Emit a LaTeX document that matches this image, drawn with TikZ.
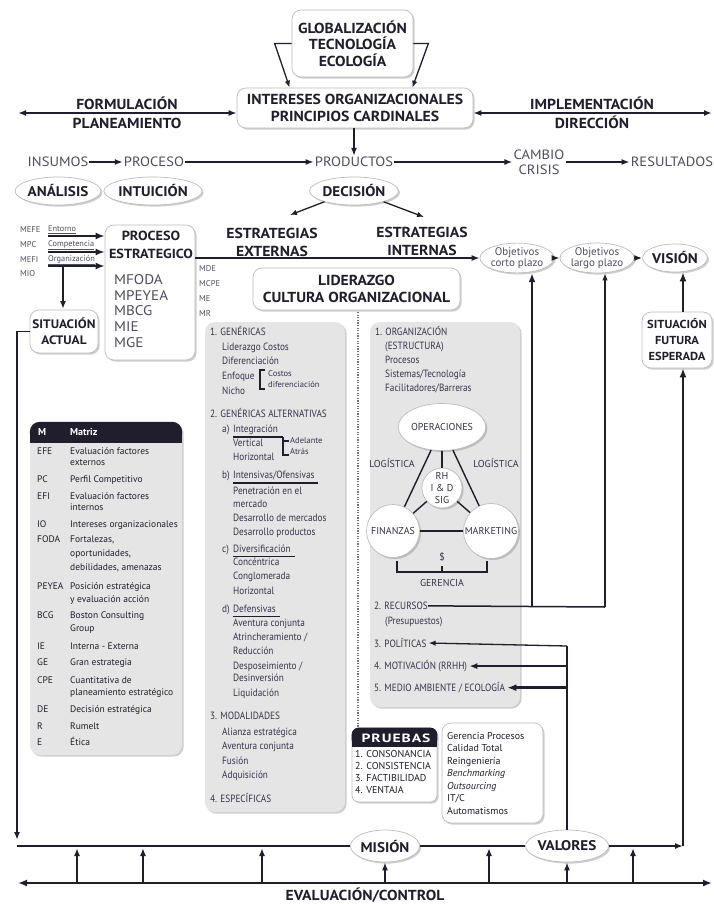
\documentclass[tikz,border=0pt]{standalone}
\usepackage{fontspec}
\setmainfont{PT Sans}
\newfontfamily\widesans[FakeStretch=1.08]{PT Sans}
\newfontfamily\narrowsans[FakeStretch=0.88]{PT Sans}
\newfontfamily\bannersans[FakeStretch=1.3,LetterSpace=8]{PT Sans}
\usetikzlibrary{arrows.meta,shapes.geometric,shadows,calc}

\definecolor{ink}{HTML}{1E1E2C}
\definecolor{soft}{HTML}{4E4E62}
\definecolor{paneltext}{HTML}{34344A}
\definecolor{panelgray}{HTML}{E5E5E5}
\definecolor{rim}{HTML}{BDBDBD}

\tikzset{
  shade3/.style={drop shadow={shadow xshift=1.6pt,shadow yshift=-1.6pt,opacity=0.35,fill=black!55}},
  wbox/.style={draw=rim,line width=0.7pt,fill=white,rounded corners=9pt,shade3,inner sep=0pt,align=center},
  gpanel/.style={fill=panelgray,rounded corners=10pt,shade3,inner sep=0pt},
  oval/.style={ellipse,draw=rim,line width=0.7pt,fill=white,shade3,inner sep=0pt,align=center},
  disc/.style={circle,draw=rim,line width=0.7pt,fill=white,shade3,inner sep=0pt,align=center},
  hd/.style={font=\widesans\bfseries\fontsize{14.5}{16.5}\selectfont,text=ink},
  hds/.style={font=\widesans\bfseries\fontsize{12.3}{16}\selectfont,text=ink},
  hdo/.style={font=\widesans\bfseries\fontsize{14}{16}\selectfont,text=ink},
  hdlbl/.style={font=\widesans\bfseries\fontsize{14.5}{19}\selectfont,text=ink,align=center,inner sep=0pt},
  flowlbl/.style={font=\widesans\fontsize{13.5}{15}\selectfont,text=soft,align=center,inner sep=1pt},
  tiny/.style={font=\fontsize{8.5}{10}\selectfont,text=soft,inner sep=0pt},
  mtx/.style={font=\fontsize{9.5}{11}\selectfont,text=ink,inner sep=0pt,anchor=mid west},
  gtx/.style={font=\narrowsans\fontsize{10.5}{12}\selectfont,text=paneltext,inner sep=0pt,anchor=mid west},
  gsm/.style={font=\fontsize{8.5}{9}\selectfont,text=paneltext,inner sep=0pt,anchor=mid west},
  dtx/.style={font=\fontsize{10}{12}\selectfont,text=paneltext,inner sep=0pt},
  a1/.style={line width=1.3pt,-{Latex[length=7pt,width=5.5pt]}},
  a2/.style={line width=1.8pt,-{Latex[length=8pt,width=6pt]}},
  a3/.style={line width=2.6pt,-{Latex[length=9pt,width=7pt]}},
  dbl2/.style={line width=1.8pt,{Latex[length=8pt,width=6pt]}-{Latex[length=8pt,width=6pt]}},
  dbl3/.style={line width=2.6pt,{Latex[length=9pt,width=7pt]}-{Latex[length=9pt,width=7pt]}},
  plain/.style={line width=1.3pt,draw=ink},
  dotline/.style={draw=black!55,line width=1.2pt,dash pattern=on 1.2pt off 1.4pt}
}

\begin{document}
\begin{tikzpicture}[x=1pt,y=-1pt,>=Latex,draw=ink]
\useasboundingbox (0,0) rectangle (713,904);
\fill[white] (0,0) rectangle (713,904);

% ---------- top block ----------
\node[wbox,hd,minimum width=121pt,minimum height=67pt] (glob) at (352.5,43.5)
  {GLOBALIZACIÓN\\TECNOLOGÍA\\ECOLOGÍA};
\node[wbox,hd,minimum width=236pt,minimum height=40pt] (inter) at (355,108)
  {INTERESES ORGANIZACIONALES\\PRINCIPIOS CARDINALES};
\draw[a1] (glob.west) -- ++(-17,0) -- ($(inter.north west)+(53,0)$);
\draw[a1] (glob.east) -- ++(15,0) -- ($(inter.north east)+(-61,0)$);

\coordinate (fl) at (18,113);
\coordinate (fr) at (712,113);
\draw[dbl2] (fl) -- ([yshift=-5pt]inter.west);
\draw[dbl2] ([yshift=-5pt]inter.east) -- (fr);
\node[hdlbl] (form) at (127,112.5) {FORMULACIÓN\\PLANEAMIENTO};
\node[hdlbl] (impl) at (592,112.5) {IMPLEMENTACIÓN\\DIRECCIÓN};

% ---------- flow row ----------
\node[flowlbl] (ins) at (58,162) {INSUMOS};
\node[flowlbl] (pro) at (154,162) {PROCESO};
\node[flowlbl] (prod) at (354,162) {PRODUCTOS};
\node[flowlbl,font=\widesans\fontsize{13.5}{15}\selectfont] (cam) at (539,162) {CAMBIO\\CRISIS};
\node[flowlbl] (res) at (672,162) {RESULTADOS};
\draw[a2] (ins) -- (pro);
\draw[a2] (pro) -- (prod);
\draw[a2] (prod) -- (cam);
\draw[a2] (cam) -- (res);
\draw[a2] (inter.south -| prod.north) -- (prod.north);

\node[oval,hdo,minimum width=82pt,minimum height=28pt] (ana) at (58,191) {ANÁLISIS};
\node[oval,hdo,minimum width=86pt,minimum height=28pt] (intu) at (153,191) {INTUICIÓN};
\node[oval,hdo,minimum width=86pt,minimum height=28pt] (dec) at (354,191) {DECISIÓN};
\coordinate (dl) at (290,215);
\coordinate (dr) at (424,217);
\draw[a1] (dec.200) -- (dl);
\draw[a1] (dec.340) -- (dr);

% ---------- strategic process ----------
\node[wbox,minimum width=90pt,minimum height=135pt] (proc) at (150,292.5) {};
\node[hdlbl,font=\widesans\bfseries\fontsize{13.2}{18}\selectfont] (proct) at (151,245) {PROCESO\\ESTRATEGICO};
\foreach \y/\t in {282/MFODA,298/MPEYEA,313/MBCG,329/MIE,345/MGE}
  \node[font=\widesans\fontsize{14}{15}\selectfont,text=soft,inner sep=0pt,anchor=mid west] (m-\t) at (114,\y) {\t};

\foreach \y/\t in {230/MEFE,245/MPC,260/MEFI,274/MIO}
  \node[tiny,anchor=mid west] (in-\t) at (20,\y) {\t};
\foreach \y/\t/\n in {229/Entorno/e1,244/Competencia/e2,258.5/Organización/e3}
  \node[gsm,text=soft,font=\fontsize{8.3}{9}\selectfont] (\n) at (48,\y) {\underline{\t}};
\coordinate (s1) at (48,236);
\coordinate (s2) at (48,252);
\coordinate (s3) at (48,266);
\coordinate (br) at (63,266);
\draw[a3] (s1) -- (s1 -| proc.west);
\draw[a3] (s2) -- (s2 -| proc.west);
\draw[a3] (s3) -- (s3 -| proc.west);
\draw[a2] (br) -- (br |- 0,309);

\node[wbox,hds,minimum width=68pt,minimum height=43pt] (sitact) at (64,331.5) {SITUACIÓN\\ACTUAL};

\foreach \y/\t in {269/MDE,284/MCPE,299/ME,314/MR}
  \node[tiny,anchor=mid west] (o-\t) at (199,\y) {\t};

\node[hdlbl,font=\widesans\bfseries\fontsize{14.5}{18}\selectfont] (ext) at (272,242) {ESTRATEGIAS\\EXTERNAS};
\node[hdlbl,font=\widesans\bfseries\fontsize{14.5}{18}\selectfont] (int) at (422,241) {ESTRATEGIAS\\INTERNAS};
\node[wbox,hd,minimum width=207pt,minimum height=42pt] (lid) at (356.5,289)
  {LIDERAZGO\\CULTURA ORGANIZACIONAL};

\node[oval,font=\fontsize{11}{11}\selectfont,text=soft,minimum width=66pt,minimum height=28pt] (ocp) at (517,258) {Objetivos\\corto plazo};
\node[oval,font=\fontsize{11}{11}\selectfont,text=soft,minimum width=66pt,minimum height=28pt] (olp) at (597,258) {Objetivos\\largo plazo};
\node[oval,hdo,minimum width=60pt,minimum height=28pt] (vis) at (675,258) {VISIÓN};
\draw[a2] (proc.east |- ocp.west) -- (ocp.west);
\draw[a2] (ocp) -- (olp);
\draw[a2] (olp) -- (vis);

\node[wbox,hds,font=\widesans\bfseries\fontsize{11.6}{16}\selectfont,minimum width=70pt,minimum height=56pt] (sitfut) at (677,340) {SITUACIÓN\\FUTURA\\ESPERADA};
\draw[a3] (sitfut.north -| 683,0) -- (vis.south -| 683,0);

% ---------- matrix legend ----------
\node[gpanel,minimum width=152pt,minimum height=333pt] (mat) at (106,588.5) {};
\fill[ink,rounded corners=10pt] (mat.north west) rectangle ($(mat.north east)+(0,21)$);
\fill[ink] ($(mat.north west)+(0,10)$) rectangle ($(mat.north east)+(0,21)$);
\node[mtx,text=white,font=\bfseries\fontsize{10}{11}\selectfont] (mh1) at (38,433) {M};
\node[mtx,text=white,font=\bfseries\fontsize{10}{11}\selectfont] (mh2) at (70,433) {Matriz};
\foreach \y/\c in {452/EFE,480/PC,497/EFI,525/IO,540/FODA,587/PEYEA,616/BCG,647/IE,663/GE,681/CPE,710/DE,727/R,743/E}
  \node[mtx] (mc-\c) at (37,\y) {\c};
\foreach \y/\t [count=\i] in {{452/Evaluación factores},{463/externos},{480/Perfil Competitivo},
  {497/Evaluación factores},{508/internos},{525/Intereses organizacionales},{540/Fortalezas,},
  {554/oportunidades,},{568/debilidades, amenazas},{587/Posición estratégica},{600/y evaluación acción},
  {616/Boston Consulting},{629/Group},{647/Interna - Externa},{663/Gran estrategia},{681/Cuantitativa de},
  {693/planeamiento estratégico},{710/Decisión estratégica},{727/Rumelt},{743/Ética}}
  \node[mtx] (md-\i) at (70,\y) {\t};

% ---------- external strategies panel ----------
\node[gpanel,minimum width=140pt,minimum height=490pt] (gen) at (275,567) {};
\foreach \x/\y/\t [count=\i] in {{210/333/1. GENÉRICAS},{222/348/Liderazgo Costos},{222/362/Diferenciación},
  {222/377/Enfoque},{222/392/Nicho},{210/415/2. GENÉRICAS ALTERNATIVAS},{222/430/a)},{233/430/Integración},
  {233/444/Vertical},{233/458/Horizontal},{222/476/b)},{233/476/{Intensivas/Ofensivas}},{233/492/Penetración en el},
  {233/505/mercado},{233/519/Desarrollo de mercados},{233/533/Desarrollo productos},{222/550/c)},
  {233/550/Diversificación},{233/563/Concéntrica},{233/577/Conglomerada},{233/592/Horizontal},{222/610/d)},
  {233/610/Defensivas},{233/624/Aventura conjunta},{233/638/{Atrincheramiento /}},{233/652/Reducción},
  {233/667/{Desposeimiento /}},{233/679/Desinversión},{233/694/Liquidación},{210/717/3. MODALIDADES},
  {222/733/Alianza estratégica},{222/747/Aventura conjunta},{222/762/Fusión},{222/776/Adquisición},
  {210/800/4. ESPECÍFICAS}}
  \node[gtx] (g-\i) at (\x,\y) {\t};
\node[gsm] (cd1) at (268,374) {Costos};
\node[gsm] (cd2) at (268,385) {diferenciación};
\draw[plain] (265,370) -- (260,370) -- (260,389) -- (265,389);
\node[gsm] (ad1) at (290,441) {Adelante};
\node[gsm] (ad2) at (290,452) {Atrás};
\draw[plain,line width=1.8pt] (233,437) -- (283,437);
\draw[plain] (283,437) -- (283,455) -- (289,455);
\draw[plain] (283,441) -- (289,441);
\draw[plain,line width=1.8pt] (233,483) -- (318,483);
\draw[plain,line width=1.8pt] (233,556.5) -- (295,556.5);
\draw[plain,line width=1.8pt] (233,616.5) -- (280,616.5);

\draw[dotline] (358,312) -- (358,727);

% ---------- internal strategies panel ----------
\node[gpanel,minimum width=150pt,minimum height=385pt] (org) at (445,514.5) {};
\foreach \x/\y/\t [count=\i] in {{375/333/1. ORGANIZACIÓN},{385/347/(ESTRUCTURA)},{385/361/Procesos},
  {385/375/{Sistemas/Tecnología}},{385/389/{Facilitadores/Barreras}},{374/607/2. RECURSOS},{385/622/(Presupuestos)},
  {374/645/3. POLÍTICAS},{374/667/4. MOTIVACIÓN (RRHH)},{374/689/{5. MEDIO AMBIENTE / ECOLOGÍA}}}
  \node[gtx] (r-\i) at (\x,\y) {\t};

\node[oval,dtx,minimum width=79pt,minimum height=47pt] (ops) at (442,427) {OPERACIONES};
\node[disc,dtx,font=\fontsize{10}{12}\selectfont,minimum size=40pt] (rh) at (442,488) {RH\\I \& D\\SIG};
\node[disc,dtx,minimum size=53pt] (fin) at (393,531) {FINANZAS};
\node[disc,dtx,minimum size=55pt] (mkt) at (491,531) {MARKETING};
\draw[plain,line width=1.4pt] (ops) -- (fin);
\draw[plain,line width=1.4pt] (ops) -- (mkt);
\draw[plain,line width=2.6pt] (ops) -- (rh);
\draw[plain,line width=1.4pt] (rh) -- (fin);
\draw[plain,line width=1.4pt] (rh) -- (mkt);
\draw[plain,line width=2.6pt] (fin) -- (mkt);
\node[dtx] (lg1) at (392,463) {LOGÍSTICA};
\node[dtx] (lg2) at (496,463) {LOGÍSTICA};
\node[dtx] (dol) at (442,557) {\$};
\draw[plain,line width=1.2pt] (397,561) -- (397,572) -- (487,572) -- (487,561);
\draw[plain,line width=1.2pt] (442,572) -- (442,566);
\node[dtx] (ger) at (442,583) {GERENCIA};

% ---------- feedback links ----------
\coordinate (rk) at (605,607);
\coordinate (rj) at (532,607);
\draw[plain,line width=1.5pt] (r-6.east) -- (rk);
\draw[a1,line width=1.5pt] (rk) -- (olp.south -| rk);
\draw[a3] (rj) -- (ocp.south -| rj);

\node[oval,hdo,minimum width=66pt,minimum height=32pt] (mis) at (385,846) {MISIÓN};
\node[oval,hdo,minimum width=72pt,minimum height=32pt] (val) at (567,846) {VALORES};

\coordinate (vp) at (567,646);
\draw[plain,line width=1.5pt] (vp) -- (val.north);
\draw[a1] (vp) -- ([xshift=2pt]r-8.east);
\draw[a2] (vp |- r-9.east) -- ([xshift=2pt]r-9.east);
\draw[a3] (vp |- r-10.east) -- ([xshift=2pt]r-10.east);

% ---------- tests and tools ----------
\node[wbox,rounded corners=7pt,minimum width=85pt,minimum height=74pt] (pru) at (394.5,765) {};
\fill[ink,rounded corners=7pt] (pru.north west) rectangle ($(pru.north east)+(0,19)$);
\fill[ink] ($(pru.north west)+(0,9)$) rectangle ($(pru.north east)+(0,19)$);
\node[font=\bannersans\bfseries\fontsize{12}{13}\selectfont,text=white,inner sep=0pt] (prut) at (396,738) {PRUEBAS};
\foreach \y/\t [count=\i] in {{755/1. CONSONANCIA},{767/2. CONSISTENCIA},{779/3. FACTIBILIDAD},{791/4. VENTAJA}}
  \node[gtx,font=\fontsize{10}{12}\selectfont,text=ink] (p-\i) at (355,\y) {\t};

\node[wbox,minimum width=101pt,minimum height=100pt] (tools) at (492.5,773) {};
\foreach \y/\t [count=\i] in {{737/Gerencia Procesos},{749/Calidad Total},{762/Reingeniería},
  {774/\itshape Benchmarking},{787/\itshape Outsourcing},{799/{IT/C}},{812/Automatismos}}
  \node[gtx,font=\fontsize{10}{12}\selectfont,text=ink] (t-\i) at (447,\y) {\t};

% ---------- bottom loop ----------
\coordinate (bl) at (17,846);
\coordinate (brr) at (683,846);
\draw[a2] (sitact.west) -- (sitact.west -| bl) -- ([yshift=6pt]bl);
\draw[line width=1.8pt] (bl) -- (mis.west);
\draw[line width=1.8pt] (mis.east) -- (val.west);
\draw[a2] (val.east) -- (brr);
\draw[a3] (brr) -- (sitfut.south -| brr);

\coordinate (el) at (18,883);
\coordinate (er) at (712,883);
\draw[dbl3] (el) -- (er);
\foreach \x in {77,143,262,489,633}
  \draw[a2] (\x,883) -- (\x,848);
\draw[a2] (385,883) -- (mis.south);
\draw[a2] (567,883) -- (val.south);
\node[hdlbl] (eval) at (365,895) {EVALUACIÓN/CONTROL};
\end{tikzpicture}
\end{document}
